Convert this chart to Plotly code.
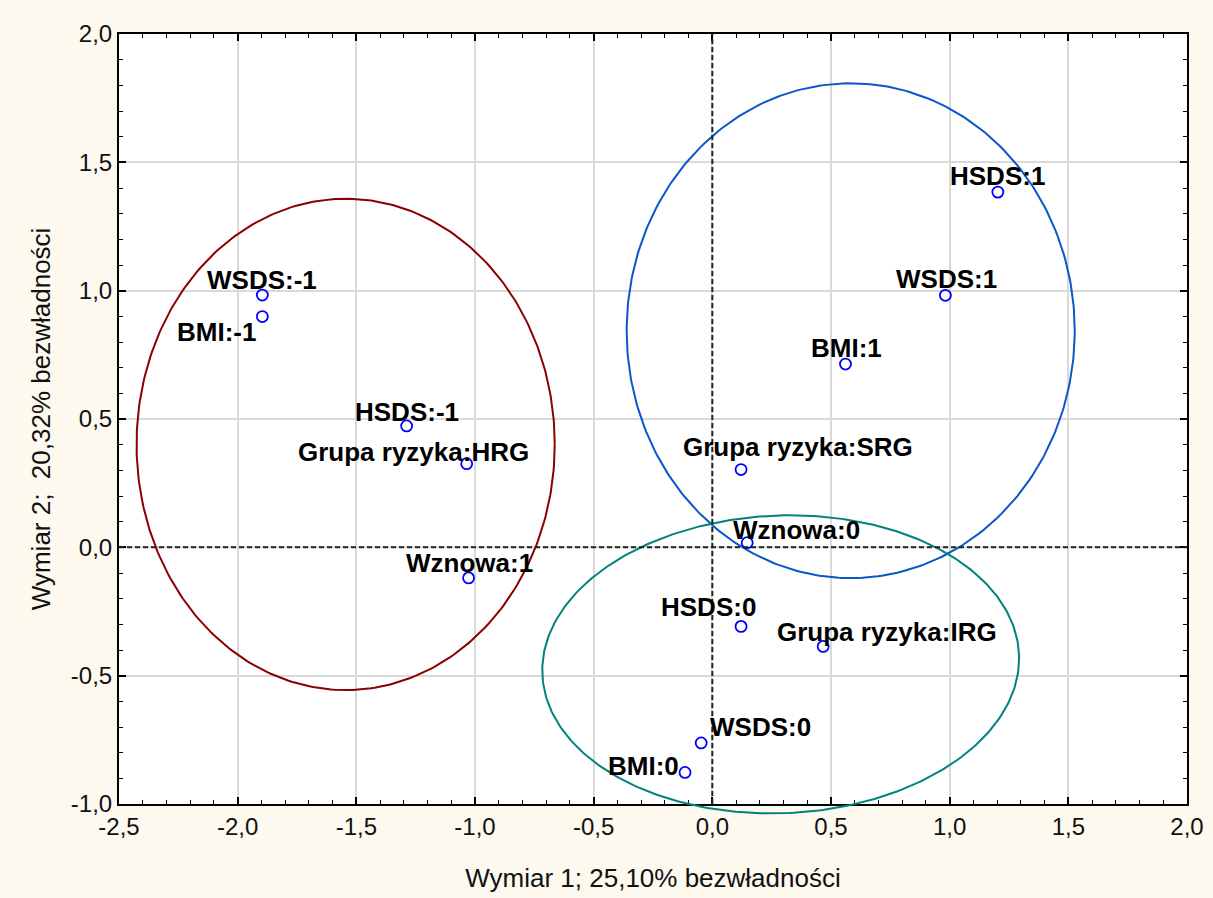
import numpy as np
import plotly.graph_objects as go

# ---- category points (correspondence analysis coordinates) ----
labels = ["WSDS:-1", "BMI:-1", "HSDS:-1", "Grupa ryzyka:HRG", "Wznowa:1",
          "Grupa ryzyka:SRG", "Wznowa:0", "HSDS:0", "Grupa ryzyka:IRG",
          "WSDS:0", "BMI:0", "HSDS:1", "WSDS:1", "BMI:1"]
dim1 = [-1.896, -1.896, -1.288, -1.035, -1.027,
        0.121, 0.147, 0.121, 0.467,
        -0.047, -0.115, 1.203, 0.982, 0.561]
dim2 = [0.983, 0.899, 0.473, 0.326, -0.119,
        0.303, 0.018, -0.308, -0.386,
        -0.762, -0.877, 1.384, 0.982, 0.714]

# label placement offsets in pixels (dx, dy)
label_dx = [0, -46, 0, -53, 1, 57, 49, -33, 64, 59, -42, 0, 1, 1]
label_dy = [15, -15, 14, 12, 15, 23, 13, 19, 14, 16, 6, 16, 16, 16]

# ---- grouping ellipses ----
ell_cx = [-1.545, 0.583, 0.288]
ell_cy = [0.401, 0.844, -0.456]
ell_rx = [0.881, 0.944, 1.005]
ell_ry = [0.957, 0.964, 0.580]
ell_rot_deg = [0, 0, 2]
ell_colors = ["#8B0000", "#0A57C8", "#00827D"]

# ---- axes ----
x_ticks = [-2.5, -2.0, -1.5, -1.0, -0.5, 0.0, 0.5, 1.0, 1.5, 2.0]
x_tick_labels = ["-2,5", "-2,0", "-1,5", "-1,0", "-0,5", "0,0", "0,5", "1,0", "1,5", "2,0"]
y_ticks = [-1.0, -0.5, 0.0, 0.5, 1.0, 1.5, 2.0]
y_tick_labels = ["-1,0", "-0,5", "0,0", "0,5", "1,0", "1,5", "2,0"]
x_range = [-2.5, 2.0]
y_range = [-1.0, 2.0]
x_title = "Wymiar 1; 25,10% bezwładności"
y_title = "Wymiar 2;\u00a0 20,32% bezwładności"

W, H = 1213, 898
M_L, M_R, M_T, M_B = 119, 26, 34, 80
plot_h = H - M_T - M_B
y_dom0 = 14 / plot_h  # main axis sits slightly above the bottom of the drawing area
# second (invisible) y axis spans the full area so ellipses may run past the frame
y2_lo = y_range[0] - (y_range[1] - y_range[0]) * y_dom0 / (1 - y_dom0)

FONT = "Liberation Sans, Arial, sans-serif"
PAPER = "#FDF9EE"

fig = go.Figure()

t = np.linspace(0, 2 * np.pi, 361)
for cx, cy, rx, ry, rot, col in zip(ell_cx, ell_cy, ell_rx, ell_ry, ell_rot_deg, ell_colors):
    phi = np.deg2rad(rot)
    u, v = rx * np.cos(t), ry * np.sin(t)
    ex = cx + u * np.cos(phi) - v * np.sin(phi)
    ey = cy + u * np.sin(phi) + v * np.cos(phi)
    fig.add_trace(go.Scatter(x=ex, y=ey, mode="lines", xaxis="x2", yaxis="y2",
                             line=dict(color=col, width=2), hoverinfo="skip",
                             showlegend=False))

fig.add_trace(go.Scatter(
    x=dim1, y=dim2, mode="markers", xaxis="x2", yaxis="y2",
    marker=dict(symbol="circle-open", size=11, color="#0000FF",
                line=dict(width=1.8, color="#0000FF")),
    text=labels, hoverinfo="text", showlegend=False))

# invisible trace keeps the framed axes active
fig.add_trace(go.Scatter(x=[dim1[0]], y=[dim2[0]], mode="markers",
                         marker=dict(opacity=0), hoverinfo="skip", showlegend=False))

for lab, x, y, dx, dy in zip(labels, dim1, dim2, label_dx, label_dy):
    fig.add_annotation(x=x, y=y, xref="x", yref="y", text=f"<b>{lab}</b>",
                       showarrow=False, xshift=dx, yshift=dy,
                       xanchor="center", yanchor="middle",
                       font=dict(family=FONT, size=26, color="#000000"))

# white plotting area
fig.add_shape(type="rect", xref="x domain", yref="y domain", x0=0, x1=1, y0=0, y1=1,
              fillcolor="white", line=dict(width=0), layer="below")
# dashed origin lines
fig.add_shape(type="line", xref="x", yref="y domain", x0=0, x1=0, y0=0, y1=1,
              line=dict(color="#222222", width=2, dash="5px,3px"), layer="above")
fig.add_shape(type="line", xref="x domain", yref="y", x0=0, x1=1, y0=0, y1=0,
              line=dict(color="#222222", width=2, dash="5px,3px"), layer="above")

axis_common = dict(
    showgrid=True, gridcolor="#D9D9D9", gridwidth=1.6,
    zeroline=False, showline=True, linecolor="black", linewidth=2,
    mirror="ticks", ticks="inside", ticklen=7, tickwidth=1.5, tickcolor="black",
    tickmode="array", automargin=False,
    tickfont=dict(family=FONT, size=24, color="#111111"),
    minor=dict(tickmode="linear", dtick=0.1, ticks="inside", ticklen=4,
               tickwidth=1.2, tickcolor="black", showgrid=False),
)

fig.update_layout(
    width=W, height=H, autosize=False,
    margin=dict(l=M_L, r=M_R, t=M_T, b=M_B, pad=0),
    paper_bgcolor=PAPER, plot_bgcolor="rgba(0,0,0,0)",
    showlegend=False,
    xaxis=dict(range=x_range, domain=[0, 1], anchor="y", tickvals=x_ticks,
               ticktext=x_tick_labels,
               title=dict(text=x_title, font=dict(family=FONT, size=26, color="#111111"),
                          standoff=30),
               minor_tick0=-2.5, **axis_common),
    yaxis=dict(range=y_range, domain=[y_dom0, 1], anchor="x", tickvals=y_ticks,
               ticktext=y_tick_labels,
               title=dict(text=y_title, font=dict(family=FONT, size=26, color="#111111"),
                          standoff=13),
               minor_tick0=-1.0, **axis_common),
    xaxis2=dict(range=x_range, domain=[0, 1], anchor="y2", visible=False),
    yaxis2=dict(range=[y2_lo, y_range[1]], domain=[0, 1], anchor="x2", visible=False),
)

fig.write_html("out.html")
